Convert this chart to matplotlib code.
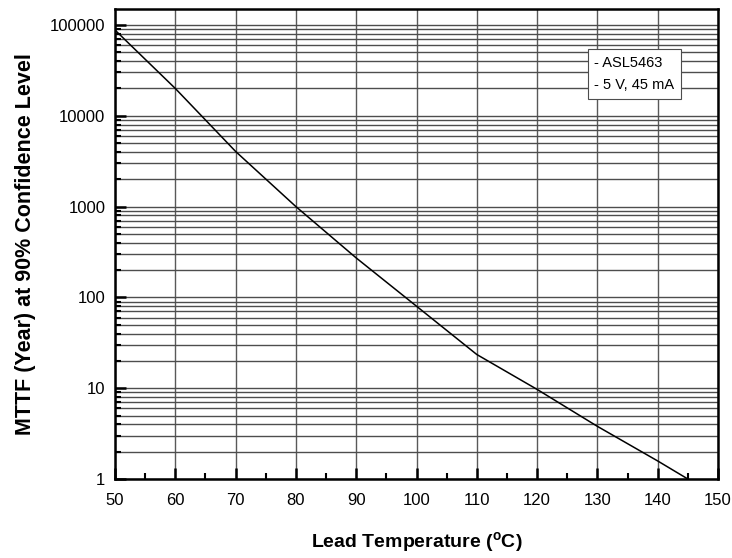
import numpy as np
import matplotlib
matplotlib.use("Agg")
import matplotlib.pyplot as plt
from matplotlib.ticker import FixedLocator, FixedFormatter, MultipleLocator, LogLocator, NullFormatter

plt.rcParams['font.family'] = ['Liberation Sans', 'DejaVu Sans']

# values
temperature = [50, 60, 70, 80, 90, 100, 110, 120, 130, 140, 145]
mttf_years = [88000, 20000, 4050, 1000, 272, 80, 23.5, 9.7, 3.8, 1.58, 1.0]
legend_lines = ["- ASL5463", "- 5 V, 45 mA"]
ytick_vals = [1, 10, 100, 1000, 10000, 100000]
ytick_labels = ["1", "10", "100", "1000", "10000", "100000"]

fig = plt.figure(figsize=(7.32, 5.58), dpi=100)
ax = fig.add_axes([115 / 732, 79 / 558, 603 / 732, 470 / 558])

ax.plot(temperature, mttf_years, color="black", linewidth=1.1, zorder=3)

ax.set_yscale("log")
ax.set_xlim(50, 150)
ax.set_ylim(1, 150000)

ax.xaxis.set_major_locator(MultipleLocator(10))
ax.xaxis.set_minor_locator(MultipleLocator(5))
ax.yaxis.set_major_locator(FixedLocator(ytick_vals))
ax.yaxis.set_major_formatter(FixedFormatter(ytick_labels))
ax.yaxis.set_minor_locator(LogLocator(base=10, subs=np.arange(2, 10), numticks=20))
ax.yaxis.set_minor_formatter(NullFormatter())

ax.grid(True, which="major", axis="x", color="0.35", linewidth=1.0)
ax.grid(True, which="both", axis="y", color="0.3", linewidth=1.0)
ax.set_axisbelow(True)

ax.tick_params(which="major", direction="in", length=8, width=1.8, labelsize=12,
               top=False, right=False)
ax.tick_params(axis="x", which="major", pad=10)
ax.tick_params(axis="y", which="major", pad=7)
ax.tick_params(which="minor", direction="in", length=4, width=1.5, top=False, right=False)
for s in ax.spines.values():
    s.set_linewidth(1.8)

ax.set_xlabel("Lead Temperature ($\\mathregular{^o}$C)", fontsize=14, fontweight="bold", labelpad=16)
ax.set_ylabel("MTTF (Year) at 90% Confidence Level", fontsize=15.5, fontweight="bold", labelpad=10)

ax.text(0.795, 0.9, "\n".join(legend_lines), transform=ax.transAxes, fontsize=10.5,
        va="top", ha="left", linespacing=1.75, zorder=5,
        bbox=dict(boxstyle="square,pad=0.45", facecolor="white", edgecolor="0.3", linewidth=0.8))

fig.savefig("out.png", dpi=100)
